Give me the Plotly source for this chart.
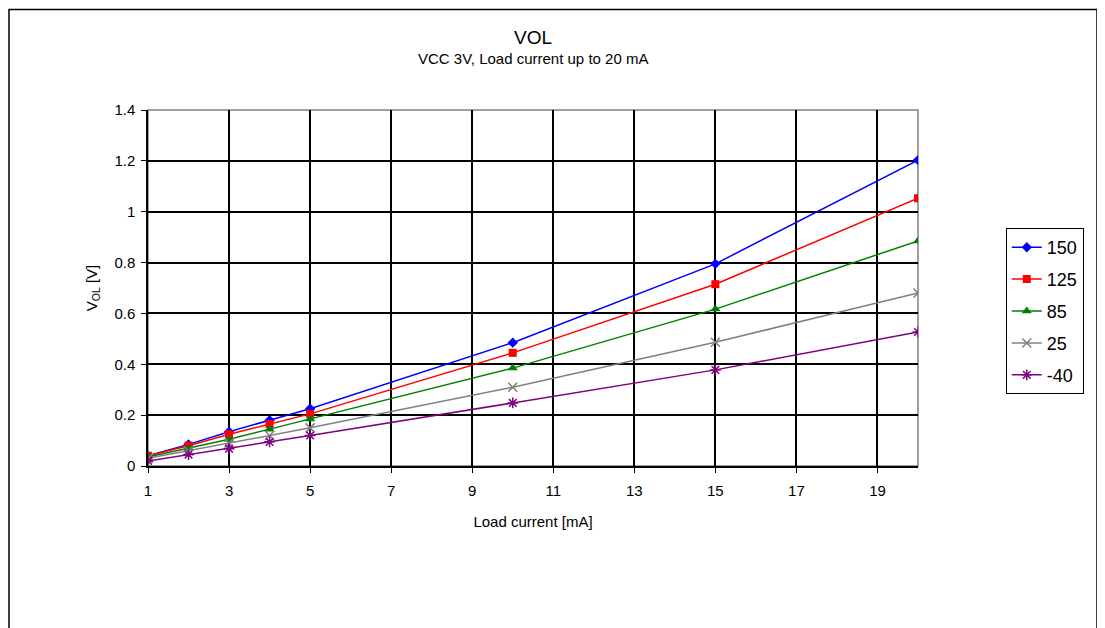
import plotly.graph_objects as go

load_current = [1, 2, 3, 4, 5, 10, 15, 20]
v_150 = [0.040, 0.085, 0.135, 0.180, 0.225, 0.485, 0.795, 1.203]
v_125 = [0.040, 0.080, 0.125, 0.165, 0.205, 0.445, 0.715, 1.053]
v_85 = [0.035, 0.070, 0.105, 0.145, 0.185, 0.385, 0.617, 0.885]
v_25 = [0.030, 0.060, 0.090, 0.120, 0.150, 0.310, 0.487, 0.680]
v_m40 = [0.020, 0.045, 0.068, 0.095, 0.120, 0.248, 0.378, 0.527]

series = [
    ("150", v_150, "#0000FF", "diamond", 8, 0),
    ("125", v_125, "#FF0000", "square", 8, 0),
    ("85", v_85, "#008000", "triangle-up", 9, 0),
    ("25", v_25, "#808080", "x-thin-open", 9, 1.5),
    ("-40", v_m40, "#800080", "asterisk-open", 9, 1.5),
]

font = "Liberation Sans, Arial, sans-serif"
fig = go.Figure()
for name, vals, color, sym, size, lw in series:
    fig.add_trace(go.Scatter(
        x=load_current, y=vals, name=name, mode="lines+markers",
        legendgroup=name,
        line=dict(color=color, width=1.5),
        marker=dict(symbol=sym, size=size, color=color,
                    line=dict(color=color, width=lw)),
    ))

# page has an 8px body margin; plot area at screen x 148..918, y 110..466
L, T = 140, 102
PW, PH = 770, 356
fig.update_layout(
    width=1105, height=628,
    margin=dict(l=L, r=1105 - L - PW, t=T, b=628 - T - PH),
    paper_bgcolor="white", plot_bgcolor="white",
    font=dict(family=font, size=15, color="black"),
    showlegend=True,
    legend=dict(x=1.114, y=0.6685, xanchor="left", yanchor="top",
                bordercolor="black", borderwidth=1, bgcolor="white",
                font=dict(size=18), tracegroupgap=5.5),
    annotations=[
        dict(text="VOL", x=0.5, y=(466 - 37) / PH, xref="paper", yref="paper",
             showarrow=False, font=dict(size=19), xanchor="center", yanchor="middle"),
        dict(text="VCC 3V, Load current up to 20 mA", x=0.5, y=(466 - 58) / PH,
             xref="paper", yref="paper", showarrow=False, font=dict(size=15),
             xanchor="center", yanchor="middle"),
    ],
    shapes=[
        dict(type="rect", xref="paper", yref="paper",
             x0=(9 - 148) / PW, x1=(1097 - 148) / PW,
             y0=-0.6, y1=(T + PH - 1.5) / PH,
             line=dict(color="black", width=1.5), layer="below"),
        dict(type="rect", xref="paper", yref="paper", x0=0, x1=1, y0=0, y1=1,
             line=dict(color="#808080", width=1.5), layer="below"),
    ],
)

fig.update_xaxes(
    range=[1, 20], tick0=1, dtick=2, showgrid=True, gridcolor="black", gridwidth=1.5,
    showline=True, linecolor="black", linewidth=1.5, ticks="outside", ticklen=5,
    tickcolor="black", zeroline=False, ticklabelstandoff=5,
    title=dict(text="Load current [mA]", font=dict(size=15), standoff=19),
)
fig.update_yaxes(
    range=[0, 1.4], dtick=0.2, showgrid=True, gridcolor="black", gridwidth=1.5,
    showline=True, linecolor="black", linewidth=1.5, ticks="outside", ticklen=5,
    tickcolor="black", zeroline=False, tickformat="~g", ticklabelstandoff=3,
    title=dict(text="V<sub>OL</sub> [V]", font=dict(size=15), standoff=13),
)

fig.write_html("out.html")
